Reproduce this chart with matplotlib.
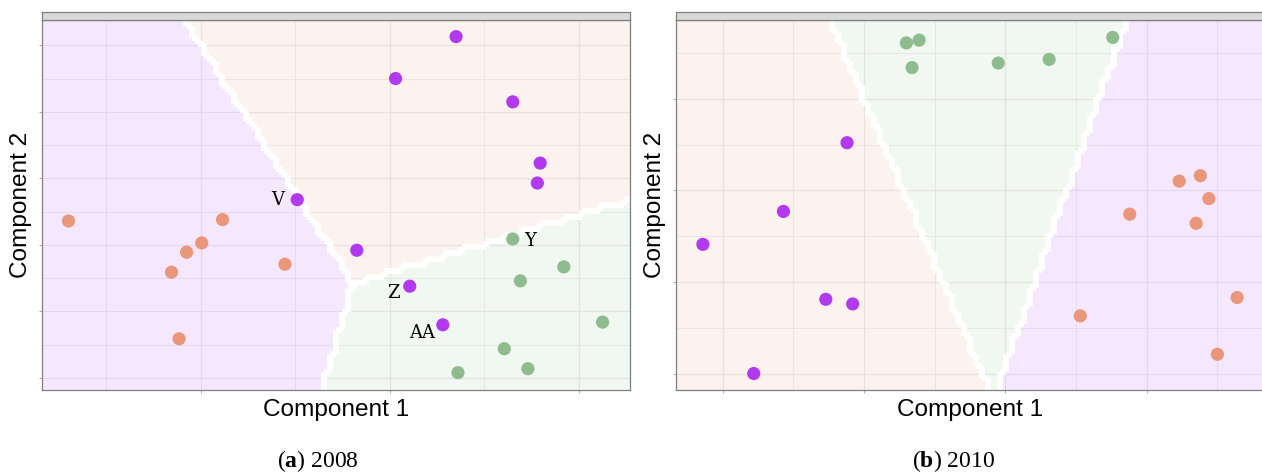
import numpy as np
import matplotlib
matplotlib.use("Agg")
import matplotlib.pyplot as plt
from matplotlib.colors import to_rgb
from matplotlib.ticker import MultipleLocator

plt.rcParams["mathtext.fontset"] = "custom"
plt.rcParams["mathtext.rm"] = "Liberation Serif"
plt.rcParams["mathtext.bf"] = "Liberation Serif:bold"

COLS = {"purple": "#B23AEE", "orange": "#E9967A", "green": "#8FBC8F"}
FILL_ALPHA = 0.12

# ---- 2008 ----
x08_purple = [0.70, 0.06, 1.30, 1.59, 1.56, -0.98, -0.35, 0.21, 0.56]
y08_purple = [3.13, 2.50, 2.15, 1.23, 0.93, 0.68, -0.08, -0.62, -1.20]
x08_orange = [-3.40, -1.77, -1.99, -2.15, -2.31, -1.11, -2.23]
y08_orange = [0.36, 0.38, 0.03, -0.11, -0.41, -0.29, -1.41]
x08_green = [1.30, 1.84, 1.38, 2.25, 1.21, 1.46, 0.72]
y08_green = [0.09, -0.33, -0.54, -1.16, -1.56, -1.86, -1.92]

lab08_text = ["V", "Z", "AA", "Y"]
lab08_x = [-0.98, 0.21, 0.56, 1.30]
lab08_y = [0.68, -0.62, -1.20, 0.09]
lab08_off = [(-20, 0), (-16, -7), (-21, -8), (17, -2)]

# decision regions: meeting point, rays (counter-clockwise), region after each ray
tri08 = (-0.39, -0.57)
rays08 = [(2.54, 0.68), (-2.17, 3.38), (-0.71, -2.18)]
fill08 = ["orange", "purple", "green"]
xlim08 = (-3.68, 2.54)
ylim08 = (-2.18, 3.38)

# ---- 2010 ----
x10_purple = [-0.12, -0.57, -1.14, -0.27, -0.08, -0.78]
y10_purple = [1.52, 0.77, 0.41, -0.19, -0.24, -1.00]
x10_orange = [2.38, 2.23, 2.44, 2.35, 1.88, 1.53, 2.64, 2.50]
y10_orange = [1.16, 1.10, 0.91, 0.64, 0.74, -0.37, -0.17, -0.79]
x10_green = [0.30, 0.39, 0.34, 0.95, 1.31, 1.76]
y10_green = [2.61, 2.64, 2.34, 2.39, 2.43, 2.67]

tri10 = (0.916, -1.291)
rays10 = [(1.859, 2.857), (-0.24, 2.857), (0.89, -2.16)]
fill10 = ["green", "orange", "purple"]
xlim10 = (-1.33, 2.83)
ylim10 = (-1.18, 2.86)


def region_image(xlim, ylim, tri, rays, fills, nx=98, ny=62, up=6, band=3):
    xs = xlim[0] + (np.arange(nx) + 0.5) * (xlim[1] - xlim[0]) / nx
    ys = ylim[0] + (np.arange(ny) + 0.5) * (ylim[1] - ylim[0]) / ny
    xx, yy = np.meshgrid(xs, ys)
    ang = np.arctan2(yy - tri[1], xx - tri[0])
    ray_ang = [np.arctan2(ry - tri[1], rx - tri[0]) for rx, ry in rays]
    rel = np.mod(ang - ray_ang[0], 2 * np.pi)
    r1 = np.mod(ray_ang[1] - ray_ang[0], 2 * np.pi)
    r2 = np.mod(ray_ang[2] - ray_ang[0], 2 * np.pi)
    cls = np.where(rel < r1, 0, np.where(rel < r2, 1, 2))

    fine = np.kron(cls, np.ones((up, up), dtype=int))
    h, w = fine.shape
    b = band
    pad = np.pad(fine, b, mode="edge")
    edge = np.zeros_like(fine, dtype=bool)
    for d in range(1, b + 1):
        edge |= pad[b:b + h, b + d:b + d + w] != fine
        edge |= pad[b:b + h, b - d:b - d + w] != fine
        edge |= pad[b + d:b + d + h, b:b + w] != fine
        edge |= pad[b - d:b - d + h, b:b + w] != fine

    rgba = np.zeros((h, w, 4))
    for k, name in enumerate(fills):
        rgba[fine == k, :3] = to_rgb(COLS[name])
        rgba[fine == k, 3] = FILL_ALPHA
    rgba[edge] = (1, 1, 1, 1)
    return rgba


def draw_panel(ax, xlim, ylim, tri, rays, fills, pts, xstep, ystep):
    img = region_image(xlim, ylim, tri, rays, fills)
    ax.imshow(img, origin="lower", extent=(*xlim, *ylim), aspect="auto",
              interpolation="nearest", zorder=1)
    for name, (xv, yv) in pts.items():
        ax.scatter(xv, yv, s=90, color=COLS[name], edgecolors="none", zorder=3)
    ax.set_xlim(xlim)
    ax.set_ylim(ylim)
    ax.xaxis.set_major_locator(MultipleLocator(xstep))
    ax.xaxis.set_minor_locator(MultipleLocator(xstep / 2))
    ax.yaxis.set_major_locator(MultipleLocator(ystep))
    ax.yaxis.set_minor_locator(MultipleLocator(ystep / 2))
    ax.set_axisbelow(True)
    ax.grid(which="major", color="#EBEBEB", lw=0.9)
    ax.grid(which="minor", color="#EBEBEB", lw=0.6)
    ax.tick_params(which="major", length=2.5, width=0.6, color="#999999",
                   labelbottom=False, labelleft=False)
    ax.tick_params(which="minor", length=0)
    for sp in ax.spines.values():
        sp.set_color("#808080")
        sp.set_linewidth(0.9)


W, H = 1262, 474
fig = plt.figure(figsize=(W / 100, H / 100), dpi=100)

panels = [
    (42, xlim08, ylim08, tri08, rays08, fill08,
     {"purple": (x08_purple, y08_purple), "orange": (x08_orange, y08_orange),
      "green": (x08_green, y08_green)}, 2, 1, 318, "a", "2008"),
    (676, xlim10, ylim10, tri10, rays10, fill10,
     {"purple": (x10_purple, y10_purple), "orange": (x10_orange, y10_orange),
      "green": (x10_green, y10_green)}, 1, 1, 954, "b", "2010"),
]

axes = []
for left, xl, yl, tri, rays, fills, pts, xs, ys, cap_x, letter, year in panels:
    ax = fig.add_axes([left / W, (H - 390) / H, 588 / W, 370 / H])
    draw_panel(ax, xl, yl, tri, rays, fills, pts, xs, ys)
    axes.append(ax)

    strip = fig.add_axes([left / W, (H - 20) / H, 588 / W, 8 / H])
    strip.set_facecolor("#D9D9D9")
    strip.set_xticks([])
    strip.set_yticks([])
    for sp in strip.spines.values():
        sp.set_color("#808080")
        sp.set_linewidth(0.9)

    cx = left + 294
    fig.text(cx / W, (H - 416) / H, "Component 1", ha="center", va="baseline",
             fontsize=17.6, family="Liberation Sans")
    fig.text((left - 21) / W, (H - 205) / H, "Component 2", ha="center",
             va="center", rotation=90, fontsize=17.6, family="Liberation Sans")
    fig.text(cap_x / W, (H - 467) / H, "($\\mathbf{%s}$) %s" % (letter, year),
             ha="center", va="baseline", fontsize=17, family="Liberation Serif")

for t, xv, yv, off in zip(lab08_text, lab08_x, lab08_y, lab08_off):
    axes[0].annotate(t, (xv, yv), xytext=off, textcoords="offset pixels",
                     ha="center", va="center", fontsize=13,
                     family="DejaVu Serif", zorder=4)

fig.savefig("out.png", dpi=100)
